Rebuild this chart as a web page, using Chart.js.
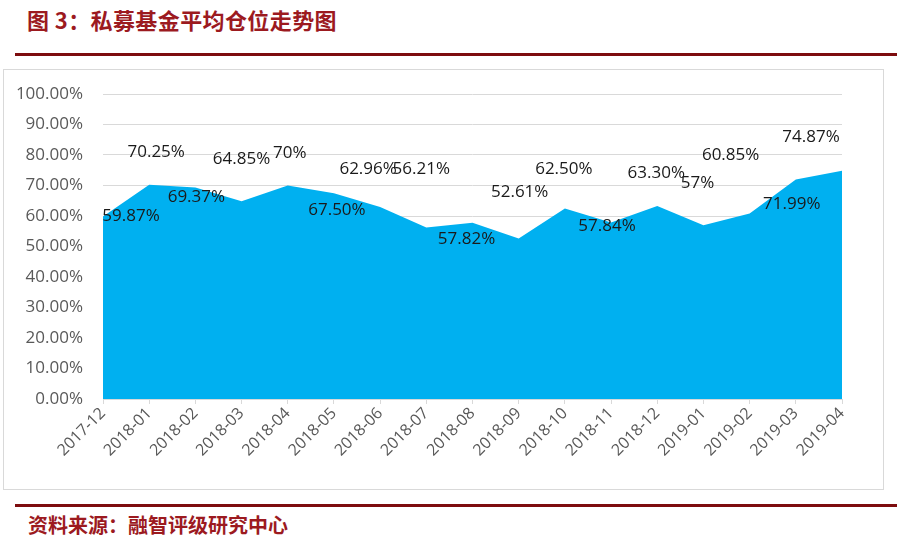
<!DOCTYPE html>
<html lang="zh-CN">
<head>
<meta charset="utf-8">
<script src="https://cdn.jsdelivr.net/npm/chart.js@4/dist/chart.umd.min.js"></script>
<style>
  body { margin: 0; background: #fff; width: 904px; height: 543px; position: relative; overflow: hidden; }
  .title { position: absolute; left: 27px; top: 3px; font: bold 22px "Noto Sans CJK SC", sans-serif; letter-spacing: 0.4px; color: #9c1a1f; }
  .rule { position: absolute; left: 15px; width: 882px; height: 3px; background: #7d0c0e; }
  .box { position: absolute; left: 3px; top: 69px; width: 879px; height: 419px; border: 1px solid #d9d9d9; }
  .source { position: absolute; left: 28px; top: 510px; font: bold 20px "Noto Sans CJK SC", sans-serif; color: #9c1a1f; }
  canvas { position: absolute; left: 4px; top: 70px; }
</style>
</head>
<body>
<div class="title">图 3：私募基金平均仓位走势图</div>
<div class="rule" style="top:53px"></div>
<div class="box"></div>
<canvas id="chart" width="878" height="418"></canvas>
<div class="rule" style="top:504px"></div>
<div class="source">资料来源：融智评级研究中心</div>
<script>
const months = ['2017-12', '2018-01', '2018-02', '2018-03', '2018-04', '2018-05', '2018-06', '2018-07', '2018-08',
                '2018-09', '2018-10', '2018-11', '2018-12', '2019-01', '2019-02', '2019-03', '2019-04'];
const position = [59.87, 70.25, 69.37, 64.85, 70, 67.50, 62.96, 56.21, 57.82,
                  52.61, 62.50, 57.84, 63.30, 57, 60.85, 71.99, 74.87];
const labelText = ['59.87%', '70.25%', '69.37%', '64.85%', '70%', '67.50%', '62.96%', '56.21%', '57.82%',
                   '52.61%', '62.50%', '57.84%', '63.30%', '57%', '60.85%', '71.99%', '74.87%'];

// where each value label sits relative to its point (as placed in the original)
const labelShift = [[28, 0], [7, -33], [1, 10], [0, -42], [2, -32], [3, 17], [-12, -38], [-5, -58], [-6, 17],
                    [1, -46], [-1, -39], [-4, 4], [-1, -33], [-6, -42], [-19, -58], [-4, 25], [-31, -33]];

const valueLabels = {
    id: 'valueLabels',
    afterDatasetsDraw(chart) {
        const ctx = chart.ctx;
        const pts = chart.getDatasetMeta(0).data;
        ctx.save();
        ctx.font = '17px "Open Sans"';
        ctx.fillStyle = '#1a1a1a';
        ctx.textAlign = 'center';
        ctx.textBaseline = 'middle';
        pts.forEach((p, i) => {
            ctx.fillText(labelText[i], p.x + labelShift[i][0], p.y + labelShift[i][1]);
        });
        ctx.restore();
    }
};

const ctx = document.getElementById('chart').getContext('2d');
new Chart(ctx, {
    type: 'line',
    data: {
        labels: months,
        datasets: [{
            data: position,
            fill: 'origin',
            backgroundColor: '#00b0f0',
            borderWidth: 0,
            pointRadius: 0,
            tension: 0
        }]
    },
    options: {
        responsive: false,
        animation: false,
        devicePixelRatio: 1,
        layout: { padding: { left: 0, right: 40, top: 24, bottom: 0 } },
        plugins: { legend: { display: false }, tooltip: { enabled: false } },
        scales: {
            x: {
                offset: false,
                afterFit(scale) { scale.height = 89; },
                grid: { drawOnChartArea: false, drawTicks: true, tickLength: 5, color: '#d9d9d9' },
                border: { display: true, color: '#d9d9d9' },
                ticks: { maxRotation: 45, minRotation: 45, padding: 0, color: '#595959',
                         font: { family: 'Open Sans', size: 16 } }
            },
            y: {
                min: 0,
                max: 100,
                afterFit(scale) { scale.width = 99; scale.paddingTop = 0; scale.paddingBottom = 0; },
                grid: { drawTicks: false, color: '#d9d9d9' },
                border: { display: false },
                ticks: { stepSize: 10, padding: 20, color: '#595959',
                         font: { family: 'Open Sans', size: 17 },
                         callback: v => v.toFixed(2) + '%' }
            }
        }
    },
    plugins: [valueLabels]
});
</script>
</body>
</html>
